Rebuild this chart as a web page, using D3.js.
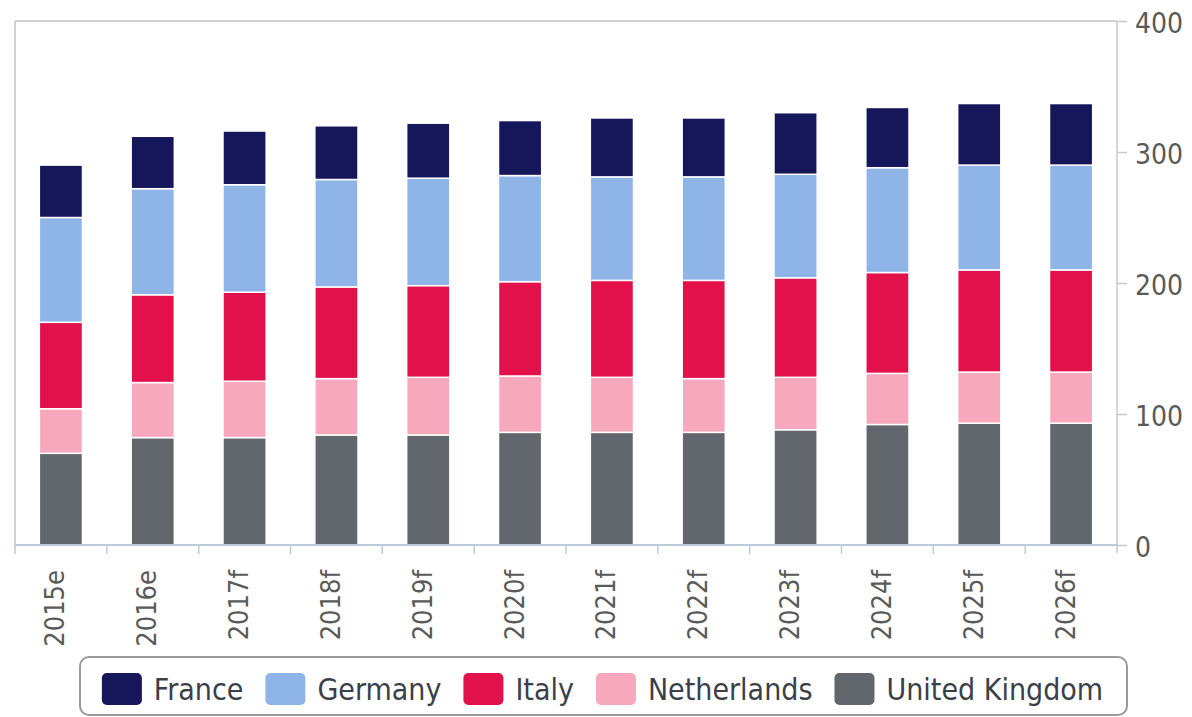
<!DOCTYPE html>
<html>
<head>
<meta charset="utf-8">
<script src="https://cdn.jsdelivr.net/npm/d3@7"></script>
<style>
  html, body { margin: 0; padding: 0; background: #fff; }
  svg { display: block; font-family: "DejaVu Sans Condensed", "DejaVu Sans", sans-serif; }
</style>
</head>
<body>
<div id="chart"></div>
<script>
const years = ['2015e', '2016e', '2017f', '2018f', '2019f', '2020f', '2021f', '2022f', '2023f', '2024f', '2025f', '2026f'];

// stacked bottom -> top
const unitedKingdom = [70, 82, 82, 84, 84, 86, 86, 86, 88, 92, 93, 93];
const netherlands   = [34, 42, 43, 43, 44, 43, 42, 41, 40, 39, 39, 39];
const italy         = [66, 67, 68, 70, 70, 72, 74, 75, 76, 77, 78, 78];
const germany       = [80, 81, 82, 82, 82, 81, 79, 79, 79, 80, 80, 80];
const france        = [40, 40, 41, 41, 42, 42, 45, 45, 47, 46, 47, 47];

const yTicks = [0, 100, 200, 300, 400];

const series = [
  { name: 'United Kingdom', values: unitedKingdom, color: '#62676d' },
  { name: 'Netherlands', values: netherlands, color: '#f8a8bd' },
  { name: 'Italy', values: italy, color: '#e2104b' },
  { name: 'Germany', values: germany, color: '#8eb4e8' },
  { name: 'France', values: france, color: '#15175a' },
];
const legendOrder = ['France', 'Germany', 'Italy', 'Netherlands', 'United Kingdom'];

const W = 1192, H = 717;
const plotLeft = 15, plotRight = 1117, plotTop = 21, plotBottom = 545;

const svg = d3.select('#chart').append('svg').attr('width', W).attr('height', H);

const x = d3.scaleBand().domain(years).range([plotLeft, plotRight]).padding(0);
const y = d3.scaleLinear().domain([0, 400]).range([plotBottom, plotTop]);

// frame lines (top / left)
svg.append('line').attr('x1', plotLeft).attr('x2', plotRight).attr('y1', plotTop).attr('y2', plotTop)
  .attr('stroke', '#d2d2d2').attr('stroke-width', 2);
svg.append('line').attr('x1', plotLeft).attr('x2', plotLeft).attr('y1', plotTop).attr('y2', plotBottom)
  .attr('stroke', '#d2d2d2').attr('stroke-width', 2);

// stacked bars
const table = years.map((yr, i) => {
  const row = { year: yr };
  series.forEach(s => { row[s.name] = s.values[i]; });
  return row;
});
const stacked = d3.stack().keys(series.map(s => s.name))(table);
const barW = x.bandwidth() * 0.47;

svg.append('g').selectAll('g')
  .data(stacked)
  .join('g')
  .attr('fill', d => series.find(s => s.name === d.key).color)
  .selectAll('rect')
  .data(d => d)
  .join('rect')
  .attr('x', d => x(d.data.year) + (x.bandwidth() - barW) / 2)
  .attr('width', barW)
  .attr('y', d => y(d[1]))
  .attr('height', d => y(d[0]) - y(d[1]))
  .attr('stroke', '#fff')
  .attr('stroke-width', 1.5);

// right axis
const yAxis = d3.axisRight(y).tickValues(yTicks).tickSize(10).tickPadding(8);
const ya = svg.append('g').attr('transform', `translate(${plotRight},0)`).call(yAxis);
ya.select('.domain').attr('stroke', '#c8c8c8').attr('stroke-width', 1.5)
  .attr('d', `M0,${plotTop}V${plotBottom + 8}`);
ya.selectAll('.tick line').attr('stroke', '#c8c8c8').attr('stroke-width', 1.5);
ya.selectAll('.tick text')
  .attr('fill', '#5a5a5a')
  .attr('font-size', 28)
  .attr('font-family', '"DejaVu Sans Condensed", "DejaVu Sans", sans-serif')
  .attr('dy', '0.42em');

// bottom axis
const xb = svg.append('g');
xb.append('line').attr('x1', plotLeft).attr('x2', plotRight).attr('y1', plotBottom).attr('y2', plotBottom)
  .attr('stroke', '#bccbdc').attr('stroke-width', 2);
xb.selectAll('line.tk')
  .data(years)
  .join('line')
  .attr('class', 'tk')
  .attr('x1', d => x(d)).attr('x2', d => x(d))
  .attr('y1', plotBottom).attr('y2', plotBottom + 9)
  .attr('stroke', '#bccbdc').attr('stroke-width', 1.5);
xb.selectAll('text')
  .data(years)
  .join('text')
  .attr('transform', d => `translate(${x(d) + x.bandwidth() / 2 - 6},${plotBottom + 25}) rotate(-90)`)
  .attr('text-anchor', 'end')
  .attr('dy', '0.35em')
  .attr('fill', '#5a5a5a')
  .attr('font-size', 27)
  .text(d => d);

// legend
const lg = svg.append('g');
lg.append('rect')
  .attr('x', 80).attr('y', 657).attr('width', 1047).attr('height', 58)
  .attr('rx', 9).attr('fill', '#fff').attr('stroke', '#9a9a9a').attr('stroke-width', 2);

const items = lg.selectAll('g.item')
  .data(legendOrder)
  .join('g')
  .attr('class', 'item');
items.append('rect')
  .attr('width', 40).attr('height', 32).attr('rx', 5)
  .attr('y', 673)
  .attr('fill', d => series.find(s => s.name === d).color);
items.append('text')
  .attr('y', 689)
  .attr('dy', '0.36em')
  .attr('font-size', 30)
  .attr('fill', '#3a3f4a')
  .text(d => d);

let widths = [];
items.select('text').each(function () { widths.push(this.getComputedTextLength()); });
const gap = 22;
const total = widths.reduce((a, b) => a + b, 0) + legendOrder.length * 52 + gap * (legendOrder.length - 1);
let cx = 602.5 - total / 2;
items.each(function (d, i) {
  const g = d3.select(this);
  g.select('rect').attr('x', cx);
  g.select('text').attr('x', cx + 52);
  cx += 52 + widths[i] + gap;
});
</script>
</body>
</html>
